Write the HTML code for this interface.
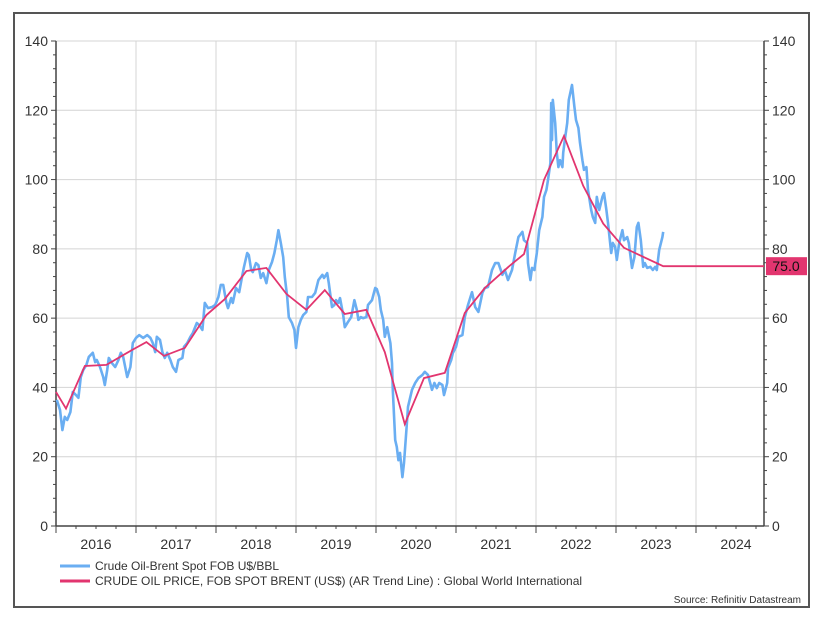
<!DOCTYPE html>
<html><head><meta charset="utf-8"><style>
body{margin:0;background:#fff;width:818px;height:622px;overflow:hidden}
svg{font-family:"Liberation Sans",sans-serif}
</style></head><body>
<svg width="818" height="622">
<rect x="14" y="13" width="795" height="594" fill="#fff" stroke="#555" stroke-width="2"/>
<g id="grid"></g>
<g id="axes"></g>
<g id="series"></g>
<g>
<line x1="60" y1="566" x2="90" y2="566" stroke="#6aaef2" stroke-width="3"/>
<text x="95" y="570" font-size="12" fill="#333">Crude Oil-Brent Spot FOB U$/BBL</text>
<line x1="60" y1="581" x2="90" y2="581" stroke="#e2356f" stroke-width="3"/>
<text x="95" y="585" font-size="12" fill="#333">CRUDE OIL PRICE, FOB SPOT BRENT (US$) (AR Trend Line) : Global World International</text>
</g>
<text x="801" y="603" font-size="10" fill="#333" text-anchor="end">Source: Refinitiv Datastream</text>
</svg>
<script>
const yTicks=[0,20,40,60,80,100,120,140];
const years=[2016,2017,2018,2019,2020,2021,2022,2023,2024];
const brentDates=[2016.01,2016.05,2016.08,2016.11,2016.14,2016.18,2016.21,2016.25,2016.28,2016.31,2016.34,2016.38,2016.41,2016.46,2016.49,2016.51,2016.55,2016.59,2016.61,2016.64,2016.66,2016.70,2016.74,2016.78,2016.81,2016.84,2016.89,2016.93,2016.96,2017.00,2017.04,2017.09,2017.14,2017.18,2017.21,2017.24,2017.26,2017.30,2017.33,2017.36,2017.39,2017.43,2017.46,2017.50,2017.53,2017.58,2017.60,2017.64,2017.68,2017.71,2017.76,2017.79,2017.83,2017.86,2017.90,2017.95,2017.99,2018.03,2018.06,2018.09,2018.13,2018.15,2018.19,2018.21,2018.25,2018.29,2018.33,2018.35,2018.39,2018.41,2018.44,2018.46,2018.50,2018.53,2018.56,2018.59,2018.63,2018.66,2018.70,2018.73,2018.76,2018.78,2018.81,2018.84,2018.86,2018.89,2018.91,2018.95,2018.98,2019.00,2019.03,2019.06,2019.09,2019.13,2019.15,2019.20,2019.24,2019.28,2019.33,2019.35,2019.39,2019.41,2019.45,2019.48,2019.50,2019.53,2019.55,2019.59,2019.61,2019.65,2019.69,2019.73,2019.76,2019.78,2019.81,2019.84,2019.88,2019.90,2019.95,2019.99,2020.01,2020.04,2020.06,2020.09,2020.11,2020.14,2020.18,2020.20,2020.21,2020.24,2020.26,2020.28,2020.30,2020.33,2020.35,2020.38,2020.40,2020.45,2020.49,2020.53,2020.58,2020.61,2020.65,2020.70,2020.73,2020.76,2020.79,2020.83,2020.85,2020.89,2020.90,2020.94,2020.96,2021.00,2021.03,2021.08,2021.11,2021.15,2021.20,2021.24,2021.28,2021.33,2021.36,2021.40,2021.45,2021.49,2021.53,2021.58,2021.61,2021.65,2021.70,2021.74,2021.78,2021.83,2021.85,2021.89,2021.90,2021.93,2021.95,2021.98,2022.01,2022.04,2022.08,2022.10,2022.13,2022.15,2022.18,2022.19,2022.20,2022.21,2022.24,2022.26,2022.28,2022.30,2022.33,2022.34,2022.36,2022.39,2022.41,2022.45,2022.48,2022.50,2022.53,2022.55,2022.58,2022.60,2022.63,2022.65,2022.69,2022.71,2022.74,2022.76,2022.79,2022.83,2022.85,2022.88,2022.90,2022.94,2022.96,2022.99,2023.01,2023.04,2023.08,2023.10,2023.14,2023.16,2023.20,2023.23,2023.26,2023.28,2023.31,2023.34,2023.36,2023.39,2023.43,2023.46,2023.49,2023.51,2023.54,2023.58,2023.59];
const brentValues=[36.4,33.5,27.7,31.5,30.6,32.9,38.7,37.8,37,43,45,46.5,48.8,50,47.3,47.9,45.9,43,40.7,45,48.5,47,45.9,47.9,50,48.8,43,45.9,52.8,54.3,55.1,54.3,55.1,54.3,52.8,50.2,54.6,53.7,50.2,48.5,50,47.9,45.9,44.5,47.9,48.5,51.7,52.8,54.6,55.7,58.6,58,56.6,64.4,62.9,63.2,63.8,66.1,69.6,69.6,64.4,62.9,65.8,64.4,68.7,67.5,72.5,74.8,78.8,78.2,73.9,73.3,75.9,75.3,71.6,73,70.1,73.9,76.2,78.8,82.5,85.4,81.7,77.6,71.9,66.1,60.3,58.6,56.6,51.4,57.4,59.5,60.9,61.8,66.1,66.1,67.3,71,72.5,71.6,73,70.1,63.2,63.8,65.2,64.4,65.8,60.9,57.4,58.9,60.3,65.2,62.4,59.5,60.3,60,60.3,63.8,65.2,68.7,68.4,66.1,62.4,59.5,54.6,57.4,52.8,47,39.3,24.8,22.8,19,21.1,14.1,18.2,27.7,34.4,39.3,41.3,42.7,43.6,44.5,43.6,39.3,41.3,39.8,41.3,40.7,37.8,41.3,45.6,47.9,49.9,51.7,54.6,55.1,60.3,63.8,67.5,63.2,61.8,67.3,68.7,69,73.9,75.9,75.9,72.5,73.9,71,73.9,78.8,83.4,84.9,82.5,81.7,75.9,71,74.5,73.9,78.8,85.4,89.2,95,97,99.9,104.8,122.1,111.4,123,116.3,107.7,103.6,105.6,103.6,107.7,111.4,116.3,123,127.3,121,117.2,114.9,110.6,105.6,102.8,103.6,97,91.2,89.2,87.5,95,91.2,95,96.1,91.2,87.5,78.8,81.7,80.5,76.8,81.7,85.4,82.5,83.4,81.7,74.5,77.6,86.3,87.5,82.5,74.8,75.9,74.5,74.8,73.9,74.8,73.9,79.7,83.4,84.9];
const trendDates=[2016.0,2016.125,2016.36,2016.63,2016.95,2017.13,2017.35,2017.61,2017.88,2018.11,2018.38,2018.63,2018.88,2019.13,2019.36,2019.61,2019.88,2020.11,2020.36,2020.60,2020.86,2021.11,2021.36,2021.68,2021.85,2022.10,2022.35,2022.59,2022.84,2023.10,2023.59,2024.85];
const trendValues=[38.7,33.9,46.2,46.5,50.8,53.1,49.1,51.4,60.9,65.5,73.6,74.5,67,62.4,68.1,61.2,62.4,50.2,29.4,42.7,44.2,61.5,68.7,75.3,78.5,99.9,112.6,98.2,87.3,80.3,75.0,75.0];
const lastLabel="75.0";
const X0=56,X1=764,Y0=526,Y1=41,T0=2016,T1=2024.85,VMAX=140;
const xs=t=>X0+(t-T0)/(T1-T0)*(X1-X0);
const ys=v=>Y0-v/VMAX*(Y0-Y1);
const NS="http://www.w3.org/2000/svg";
function mk(tag,attrs,parent,txt){const e=document.createElementNS(NS,tag);for(const k in attrs)e.setAttribute(k,attrs[k]);if(txt!==undefined)e.textContent=txt;parent.appendChild(e);return e;}
const grid=document.getElementById('grid'),axes=document.getElementById('axes'),series=document.getElementById('series');
yTicks.forEach(v=>{
 if(v>0){const g=mk('line',{x1:X0,x2:X1,y1:ys(v),y2:ys(v),stroke:'#d4d4d4','stroke-width':1},grid);
 
 }
 const l=mk('text',{x:X0-8,y:ys(v)+5,'font-size':14,fill:'#333','text-anchor':'end'},axes,String(v));
 
 
 const r=mk('text',{x:X1+8,y:ys(v)+5,'font-size':14,fill:'#333'},axes,String(v));
 
 
});
for(let v=0;v<=VMAX;v+=4){const big=v%20===0;
 mk('line',{x1:X0-(big?5:3),x2:X0,y1:ys(v),y2:ys(v),stroke:'#444'},axes);
 mk('line',{x1:X1,x2:X1+(big?5:3),y1:ys(v),y2:ys(v),stroke:'#444'},axes);}
years.forEach(y=>{
 if(y>T0){const g=mk('line',{x1:xs(y),x2:xs(y),y1:Y1,y2:Y0,stroke:'#d4d4d4'},grid);
 
 }
 const t=mk('text',{x:xs(y+0.5),y:Y0+23,'font-size':14,fill:'#333','text-anchor':'middle'},axes,String(y));
 
 
 for(let q=0;q<4;q++){const tt=y+q/4;if(tt<=T1)mk('line',{x1:xs(tt),x2:xs(tt),y1:Y0,y2:Y0+(q===0?7:3),stroke:'#444'},axes);}
});
mk('line',{x1:X0,x2:X0,y1:Y1,y2:Y0,stroke:'#444','stroke-width':1.5},axes);
mk('line',{x1:X1,x2:X1,y1:Y1,y2:Y0,stroke:'#444','stroke-width':1.5},axes);
mk('line',{x1:X0,x2:X1,y1:Y0,y2:Y0,stroke:'#444','stroke-width':1.5},axes);
const bp=mk('polyline',{points:brentDates.map((d,i)=>xs(d)+','+ys(brentValues[i])).join(' '),fill:'none',stroke:'#6aaef2','stroke-width':2.6,'stroke-linejoin':'round'},series);


const tp=mk('polyline',{points:trendDates.map((d,i)=>xs(d)+','+ys(trendValues[i])).join(' '),fill:'none',stroke:'#e2356f','stroke-width':1.8},series);


const lv=trendValues[trendValues.length-1];
const box=mk('rect',{x:X1+2,y:ys(lv)-9,width:41,height:18,fill:'#e2356f'},axes);


const bt=mk('text',{x:X1+22,y:ys(lv)+5,'font-size':14,fill:'#111','text-anchor':'middle'},axes,lastLabel);


</script>
</body></html>
